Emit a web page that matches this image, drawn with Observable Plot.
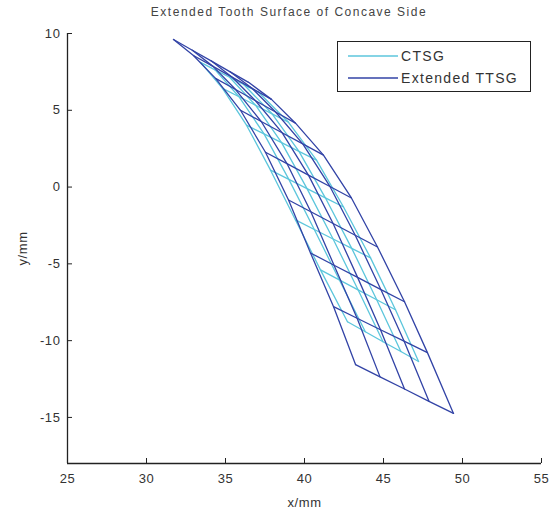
<!DOCTYPE html>
<html>
<head>
<meta charset="utf-8">
<script src="https://cdn.jsdelivr.net/npm/d3@7"></script>
<script src="https://cdn.jsdelivr.net/npm/@observablehq/plot@0.6"></script>
<style>
  html, body { margin: 0; padding: 0; background: #fff; }
  #wrap { position: relative; width: 553px; height: 513px; font-family: "Liberation Sans", Arial, sans-serif; }
  #title { position: absolute; top: 5px; left: 289px; transform: translateX(-50%); font-size: 12px; letter-spacing: 1.5px; color: #444; white-space: nowrap; }
  #legend { position: absolute; left: 337px; top: 41px; width: 192px; height: 49px; border: 1.5px solid #222; background: #fff; }
  .lg { position: absolute; left: 10px; height: 16px; display: flex; align-items: center; font-size: 14px; letter-spacing: 1.3px; color: #333; }
  .lg svg { margin-right: 3px; }
</style>
</head>
<body>
<div id="wrap">
  <div id="title"></div>
  <div id="legend"></div>
</div>
<script>
const title = "Extended Tooth Surface of Concave Side";
const xLabel = "x/mm";
const yLabel = "y/mm";
const xTicks = [25, 30, 35, 40, 45, 50, 55];
const yTicks = [-15, -10, -5, 0, 5, 10];
const seriesNames = ["CTSG", "Extended TTSG"];
const seriesColors = ["#5cc6dc", "#3243a6"];

// Extended TTSG mesh nodes: rows (tip -> bottom) x columns (left edge -> right edge)
const ttsgX = [
  [31.71, 32.90, 34.09, 35.27, 36.46],
  [32.97, 34.21, 35.44, 36.68, 37.91],
  [34.37, 35.64, 36.90, 38.17, 39.43],
  [35.95, 37.26, 38.58, 39.89, 41.20],
  [37.53, 38.89, 40.25, 41.61, 42.97],
  [38.99, 40.40, 41.81, 43.21, 44.62],
  [40.38, 41.87, 43.36, 44.84, 46.33],
  [41.84, 43.33, 44.81, 46.30, 47.78],
  [43.23, 44.78, 46.33, 47.88, 49.43]
];
const ttsgY = [
  [9.61, 8.91, 8.22, 7.52, 6.82],
  [8.57, 7.86, 7.14, 6.43, 5.71],
  [7.08, 6.35, 5.62, 4.89, 4.16],
  [5.00, 4.27, 3.54, 2.81, 2.08],
  [2.27, 1.53, 0.78, 0.04, -0.71],
  [-0.84, -1.61, -2.37, -3.14, -3.90],
  [-4.29, -5.09, -5.88, -6.68, -7.47],
  [-7.79, -8.54, -9.29, -10.03, -10.78],
  [-11.56, -12.36, -13.15, -13.95, -14.74]
];
// CTSG mesh nodes
const ctsgX = [
  [33.42, 34.34, 35.26, 36.17, 37.09],
  [34.81, 35.86, 36.90, 37.95, 38.99],
  [36.33, 37.44, 38.55, 39.65, 40.76],
  [37.85, 39.01, 40.16, 41.32, 42.47],
  [39.43, 40.62, 41.81, 42.99, 44.18],
  [41.01, 42.20, 43.39, 44.57, 45.76],
  [42.72, 43.85, 44.97, 46.10, 47.22]
];
const ctsgY = [
  [8.12, 7.63, 7.15, 6.66, 6.17],
  [6.43, 5.88, 5.33, 4.77, 4.22],
  [4.03, 3.46, 2.89, 2.32, 1.75],
  [1.10, 0.50, -0.10, -0.70, -1.30],
  [-2.14, -2.76, -3.38, -3.99, -4.61],
  [-5.39, -6.04, -6.69, -7.34, -7.99],
  [-8.77, -9.42, -10.07, -10.71, -11.36]
];

function meshLines(X, Y, series) {
  const out = [];
  const nr = X.length, nc = X[0].length;
  for (let i = 0; i < nr; i++)
    for (let j = 0; j < nc; j++) out.push({series, line: `${series}-r${i}`, x: X[i][j], y: Y[i][j]});
  for (let j = 0; j < nc; j++)
    for (let i = 0; i < nr; i++) out.push({series, line: `${series}-c${j}`, x: X[i][j], y: Y[i][j]});
  return out;
}
const ctsg = meshLines(ctsgX, ctsgY, seriesNames[0]);
const ttsg = meshLines(ttsgX, ttsgY, seriesNames[1]);
const fmt = d => String(d);

const chart = Plot.plot({
  width: 553,
  height: 513,
  marginLeft: 67,
  marginRight: 12,
  marginTop: 33,
  marginBottom: 50,
  style: {fontFamily: "Liberation Sans, Arial, sans-serif", fontSize: "13px", color: "#333", background: "#fff", letterSpacing: "0.6px"},
  x: {domain: [25, 55]},
  y: {domain: [-18, 10]},
  marks: [
    Plot.line(ctsg, {x: "x", y: "y", z: "line", stroke: seriesColors[0], strokeWidth: 1.3}),
    Plot.line(ttsg, {x: "x", y: "y", z: "line", stroke: seriesColors[1], strokeWidth: 1.3}),
    Plot.ruleX([25], {stroke: "#222", strokeWidth: 1.3}),
    Plot.ruleY([-18], {stroke: "#222", strokeWidth: 1.3}),
    Plot.axisX(xTicks, {tickSize: -5, tickFormat: () => "", stroke: "#222", label: null}),
    Plot.axisY(yTicks, {tickSize: -5, tickFormat: () => "", stroke: "#222", label: null}),
    Plot.axisX(xTicks, {tickSize: 0, tickPadding: 10, tickFormat: fmt, label: xLabel, labelAnchor: "center", labelOffset: 43, labelArrow: "none", fill: "#333"}),
    Plot.axisY(yTicks, {tickSize: 0, tickPadding: 7, tickFormat: fmt, label: yLabel, labelAnchor: "center", labelOffset: 50, labelArrow: "none", fill: "#333"})
  ]
});
document.getElementById("wrap").appendChild(chart);
document.getElementById("title").textContent = title;

const legend = document.getElementById("legend");
seriesNames.forEach((name, i) => {
  const row = document.createElement("div");
  row.className = "lg";
  row.style.top = (i === 0 ? 6 : 28) + "px";
  row.innerHTML = `<svg width="50" height="4"><line x1="0" y1="2" x2="50" y2="2" stroke="${seriesColors[i]}" stroke-width="1.5"/></svg><span>${name}</span>`;
  legend.appendChild(row);
});
</script>
</body>
</html>
